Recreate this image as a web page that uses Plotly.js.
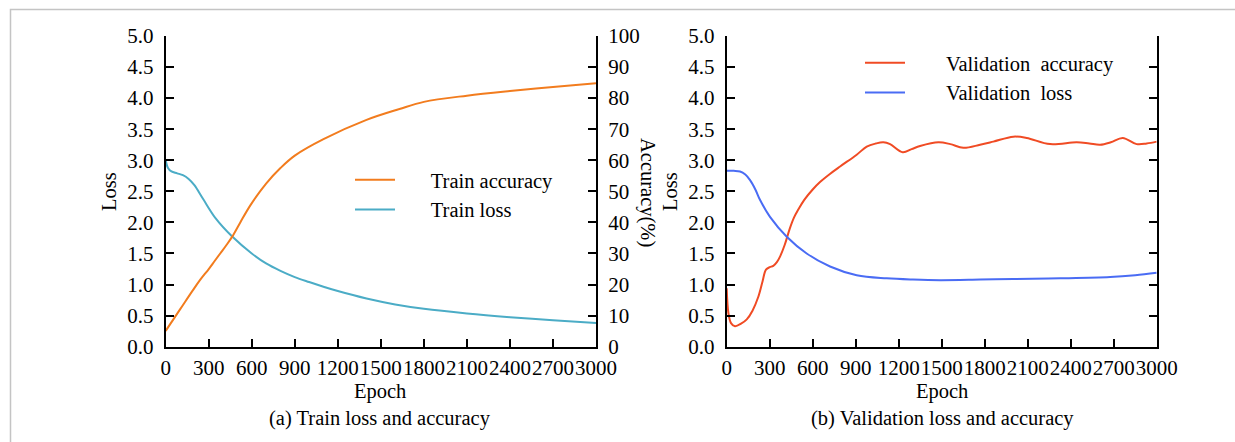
<!DOCTYPE html>
<html>
<head>
<meta charset="utf-8">
<script src="https://cdn.plot.ly/plotly-3.0.1.min.js"></script>
<style>html,body{margin:0;padding:0;background:#fff;}#chart{width:1235px;height:442px;}</style>
</head>
<body>
<div id="chart"></div>
<script>
// ---- data ----
const xTickVals = [0, 300, 600, 900, 1200, 1500, 1800, 2100, 2400, 2700, 3000];
const xTickText = ["0", "300", "600", "900", "1200", "1500", "1800", "2100", "2400", "2700", "3000"];

const trainLossEpoch = [0, 15, 40, 80, 120, 160, 200, 260, 350, 460, 600, 700, 800, 900, 1000, 1100, 1200, 1400, 1600, 1800, 2100, 2400, 2700, 3000];
const trainLoss      = [3.0, 2.88, 2.82, 2.79, 2.76, 2.70, 2.60, 2.38, 2.06, 1.78, 1.50, 1.34, 1.22, 1.12, 1.04, 0.965, 0.895, 0.775, 0.68, 0.61, 0.535, 0.475, 0.425, 0.38];

const trainAccEpoch = [0, 100, 190, 240, 300, 340, 380, 420, 465, 520, 590, 700, 800, 900, 1100, 1400, 1630, 1800, 2100, 2400, 2700, 3000];
const trainAcc      = [5.1, 12.0, 18.2, 21.5, 25.0, 27.5, 30.0, 32.5, 35.5, 40.0, 45.5, 52.5, 57.5, 61.5, 66.8, 73.0, 76.5, 78.8, 80.8, 82.3, 83.6, 84.8];

const valAccEpoch = [0, 12, 30, 58, 100, 140, 180, 220, 250, 274, 300, 325, 350, 372, 405, 440, 470, 500, 540, 600, 651, 720, 791, 907, 977, 1040, 1093, 1140, 1228, 1290, 1349, 1477, 1560, 1651, 1768, 1860, 2000, 2093, 2256, 2442, 2530, 2605, 2680, 2763, 2860, 2930, 3000];
const valAcc      = [0.94, 0.54, 0.38, 0.33, 0.37, 0.44, 0.58, 0.80, 1.05, 1.24, 1.28, 1.30, 1.36, 1.45, 1.64, 1.90, 2.08, 2.21, 2.36, 2.53, 2.65, 2.78, 2.90, 3.09, 3.22, 3.27, 3.29, 3.26, 3.13, 3.18, 3.23, 3.29, 3.26, 3.20, 3.25, 3.30, 3.38, 3.36, 3.26, 3.29, 3.27, 3.25, 3.29, 3.36, 3.26, 3.27, 3.30];

const valLossEpoch = [0, 50, 93, 130, 163, 200, 233, 302, 419, 558, 721, 907, 1116, 1300, 1489, 1768, 2000, 2326, 2675, 2850, 3000];
const valLoss      = [2.83, 2.83, 2.82, 2.77, 2.68, 2.53, 2.36, 2.09, 1.77, 1.50, 1.29, 1.15, 1.10, 1.08, 1.07, 1.08, 1.09, 1.10, 1.12, 1.15, 1.19];

const seriesNames = ["Train accuracy", "Train loss", "Validation\u00A0 accuracy", "Validation\u00A0 loss"];
const titles = {lossL: "Loss", acc: "Accuracy(%)", lossR: "Loss", epoch: "Epoch", capA: "(a) Train loss and accuracy", capB: "(b) Validation loss and accuracy"};

// ---- layout helpers ----
const W = 1235, H = 442;
const px = v => v / W;
const py = v => 1 - v / H;
const FONT = "Liberation Serif, Times New Roman, serif";
const FS = 20.5;
const TFS = 21;
const padL = "\u00A0".repeat(6);
const padR = "\u00A0".repeat(7);

const axisCommon = {
  showline: true, linecolor: "#000", linewidth: 2,
  ticks: "inside", tickcolor: "#000", tickwidth: 2, ticklen: 8,
  showgrid: false, zeroline: false, fixedrange: true,
  tickfont: {family: FONT, size: TFS, color: "#000"}
};

const yDom = [py(346.7), py(36)];
const spl = {shape: "spline", smoothing: 1};

const traces = [
  {x: trainAccEpoch, y: trainAcc, name: padL + seriesNames[0], xaxis: "x", yaxis: "y2", mode: "lines",
   line: Object.assign({color: "#F27C1E", width: 2}, spl), legend: "legend"},
  {x: trainLossEpoch, y: trainLoss, name: padL + seriesNames[1], xaxis: "x", yaxis: "y", mode: "lines",
   line: Object.assign({color: "#4BACC6", width: 2}, spl), legend: "legend"},
  {x: valAccEpoch, y: valAcc, name: padR + seriesNames[2], xaxis: "x2", yaxis: "y3", mode: "lines",
   line: Object.assign({color: "#F04B24", width: 2}, spl), legend: "legend2"},
  {x: valLossEpoch, y: valLoss, name: padR + seriesNames[3], xaxis: "x2", yaxis: "y3", mode: "lines",
   line: Object.assign({color: "#4A6CF4", width: 2}, spl), legend: "legend2"}
];

const ann = (text, x, y, angle) => ({
  text: text, xref: "paper", yref: "paper", x: px(x), y: py(y),
  xanchor: "center", yanchor: "middle", showarrow: false, textangle: angle || 0,
  font: {family: FONT, size: FS, color: "#000"}
});

const legendCommon = {
  font: {family: FONT, size: FS, color: "#000"}, bgcolor: "rgba(0,0,0,0)",
  borderwidth: 0, itemwidth: 40, tracegroupgap: 0, xanchor: "left", yanchor: "top",
  itemclick: false, itemdoubleclick: false
};

const layout = {
  width: W, height: H,
  margin: {l: 0, r: 0, t: 0, b: 0, pad: 0},
  paper_bgcolor: "#fff", plot_bgcolor: "rgba(0,0,0,0)",
  font: {family: FONT, size: FS, color: "#000"},
  showlegend: true,
  xaxis: Object.assign({}, axisCommon, {domain: [px(165.7), px(596)], range: [0, 3000], anchor: "y",
    tickvals: xTickVals, ticktext: xTickText, tickangle: 0, ticklabelstandoff: 1}),
  yaxis: Object.assign({}, axisCommon, {domain: yDom, range: [0, 5], dtick: 0.5, tick0: 0, tickformat: ".1f",
    anchor: "x", ticklabelstandoff: 6}),
  yaxis2: Object.assign({}, axisCommon, {domain: yDom, range: [0, 100], dtick: 10, tick0: 0,
    overlaying: "y", side: "right", anchor: "x", ticklabelstandoff: 6}),
  xaxis2: Object.assign({}, axisCommon, {domain: [px(726.7), px(1156.7)], range: [0, 3000], anchor: "y3",
    tickvals: xTickVals, ticktext: xTickText, tickangle: 0, ticklabelstandoff: 1}),
  yaxis3: Object.assign({}, axisCommon, {domain: yDom, range: [0, 5], dtick: 0.5, tick0: 0, tickformat: ".1f",
    anchor: "x2", mirror: "ticks", ticklabelstandoff: 6}),
  legend: Object.assign({}, legendCommon, {x: px(350), y: py(160)}),
  legend2: Object.assign({}, legendCommon, {x: px(860), y: py(43)}),
  annotations: [
    ann(titles.lossL, 109, 192, -90),
    ann(titles.acc, 648, 192, 90),
    ann(titles.lossR, 670, 192, -90),
    ann(titles.epoch, 380, 391),
    ann(titles.epoch, 942, 391),
    ann(titles.capA, 380, 418),
    ann(titles.capB, 942, 418)
  ],
  shapes: [
    {type: "rect", xref: "paper", yref: "paper", x0: px(10.5), x1: 1.02, y0: -0.02, y1: py(9.5),
     line: {color: "#C4C4C4", width: 1.5}, fillcolor: "rgba(0,0,0,0)", layer: "below"}
  ]
};

Plotly.newPlot("chart", traces, layout, {staticPlot: true, displayModeBar: false});
</script>
</body>
</html>
